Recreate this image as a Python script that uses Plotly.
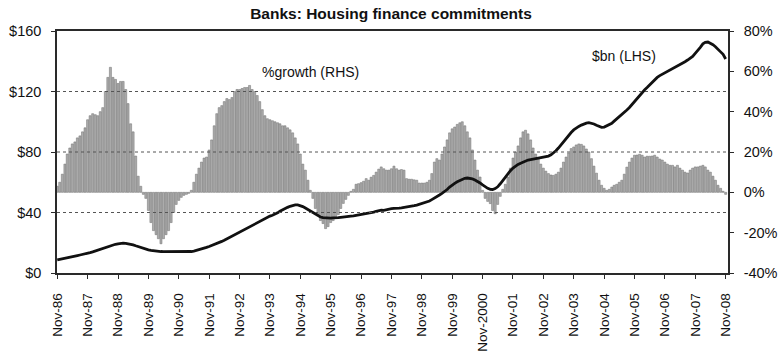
import pandas as pd
import plotly.graph_objects as go

# Monthly series, Nov-1986 to Nov-2008 (one row per year, Nov..Oct)
growth_pct = [
    3, 5, 9, 14, 19, 22, 24, 25, 27, 28, 30, 32,
    36, 38, 39, 38.5, 38, 40, 42, 50, 57, 62, 57, 56,
    54, 55, 55, 51, 44, 34, 30, 18, 8, 3, -1, -3,
    -9, -15, -19, -21, -23, -25.5, -23, -21, -19, -15, -10, -6,
    -4, -2.5, -1.5, -1, -0.5, 1, 5, 9, 12, 15, 17, 17.5,
    21, 26, 33, 39, 42, 43, 45, 46.5, 46, 47, 50, 51,
    51, 51.5, 52, 52, 53, 51, 50, 48, 45, 41, 38, 36.5,
    36, 35.5, 35, 34.5, 34, 33, 33, 32, 31, 29.5, 27, 24,
    19, 14, 11, 6, 1, -3, -8, -11, -14, -15.5, -18, -17,
    -15, -14, -12.5, -11, -8, -5.5, -3.5, -1.5, 0.5, 1.5, 4, 4.3,
    4.8, 5.5, 6.8, 6, 7.5, 8.4, 10, 11.5, 12.6, 11.7, 11, 11,
    11.7, 13, 11.7, 11, 11.3, 11, 6.8, 6.5, 6.5, 6.2, 6, 4.6,
    4.6, 4.6, 5, 6, 9.3, 15, 16.7, 16, 19, 22.5, 26, 29.5,
    31.5, 32.4, 33.7, 34.5, 35, 33, 30, 27, 21, 16, 11, 7.6,
    1, -3, -4.5, -5.6, -9, -10.6, -6, -2, 1.5, 4, 7.6, 12,
    17, 20, 23, 27, 30, 30.8, 29, 26, 22, 19, 16.7, 14,
    12, 10.5, 9.3, 8.6, 8.4, 9, 10, 12, 15, 17.5, 19.5, 21.7,
    22.5, 23.5, 24, 23.8, 23, 21.5, 20, 16.7, 13, 9.5, 6, 3.5,
    2, 1, 1.5, 2.6, 3.5, 4, 5, 6, 9, 12.5, 15, 17,
    18.4, 18.5, 18.9, 18.4, 17.5, 17.9, 17.9, 18, 18.4, 17.5, 16.5, 16,
    15, 14, 13.4, 13.4, 12.6, 13.4, 12, 11, 10, 9.6, 11, 12,
    12.6, 12.6, 13, 13.4, 12.6, 11, 10, 8, 6, 3.5, 2, 0.5,
    -1,
]

commitments_bn = [
    8.6, 8.9, 9.2, 9.6, 10.0, 10.4, 10.8, 11.1, 11.5, 11.9, 12.2, 12.6,
    13.0, 13.5, 14.0, 14.6, 15.2, 15.8, 16.4, 16.9, 17.4, 18.0, 18.5, 19.0,
    19.3, 19.6, 19.7, 19.6, 19.4, 19.2, 18.6, 18.0, 17.4, 16.8, 16.2, 15.7,
    15.3, 14.9, 14.6, 14.4, 14.3, 14.2, 14.1, 14.1, 14.2, 14.3, 14.4, 14.4,
    14.3, 14.2, 14.1, 14.0, 14.0, 14.2, 14.5, 14.9, 15.3, 15.8, 16.3, 16.9,
    17.5, 18.1, 18.7, 19.4, 20.1, 20.9, 21.7, 22.6, 23.5, 24.4, 25.3, 26.2,
    27.2, 28.2, 29.1, 30.0, 30.9, 31.8, 32.8, 33.6, 34.5, 35.3, 36.1, 36.9,
    37.6, 38.2, 38.9, 39.8, 40.8, 41.8, 42.6, 43.4, 44.1, 44.7, 45.0, 45.0,
    44.5, 43.9, 43.0, 42.0, 41.0, 39.8, 38.6, 37.7, 37.0, 36.6, 36.4, 36.2,
    36.3, 36.4, 36.3, 36.6, 36.8, 36.9, 37.1, 37.3, 37.6, 37.8, 38.1, 38.3,
    38.6, 38.9, 39.1, 39.4, 39.9, 40.3, 40.8, 41.2, 41.6, 41.4, 41.9, 42.4,
    42.5, 42.7, 42.6, 42.9, 43.1, 43.3, 43.5, 43.8, 44.1, 44.5, 44.9, 45.4,
    45.7, 46.2, 46.8, 47.6, 48.5, 49.4, 50.5, 51.6, 52.7, 53.7, 55.2, 56.8,
    58.2, 59.3, 60.3, 61.2, 62.0, 62.6, 62.8, 62.7, 62.2, 61.5, 60.6, 59.5,
    58.2, 57.0, 56.0, 55.3, 55.2, 55.8, 57.0, 59.0, 61.3, 63.6, 65.9, 67.6,
    69.4, 70.8, 71.8, 72.6, 73.4, 74.1, 74.7, 75.0, 75.3, 75.5, 75.8, 76.1,
    76.5, 76.9, 77.3, 78.1, 79.2, 80.8, 82.6, 84.8, 86.9, 89.0, 91.2, 92.9,
    94.6, 95.9, 96.9, 97.8, 98.5, 99.1, 99.4, 99.1, 98.5, 97.7, 96.8, 96.3,
    96.5, 97.3, 98.2, 99.0, 100.4, 101.8, 103.3, 104.8, 106.1, 107.8, 109.4, 111.4,
    113.5, 115.6, 117.4, 119.3, 121.0, 122.6, 124.3, 125.9, 127.6, 129.3, 130.5, 131.4,
    132.0, 132.9, 133.8, 134.7, 135.6, 136.5, 137.6, 138.7, 139.7, 140.8, 141.9, 143.2,
    145.2, 147.0, 149.2, 151.5, 152.5, 152.7, 152.0, 150.9, 149.6, 147.6, 146.2, 144.6,
    141.5,
]

x_tick_labels = [
    "Nov-86", "Nov-87", "Nov-88", "Nov-89", "Nov-90", "Nov-91", "Nov-92",
    "Nov-93", "Nov-94", "Nov-95", "Nov-96", "Nov-97", "Nov-98", "Nov-99",
    "Nov-2000", "Nov-01", "Nov-02", "Nov-03", "Nov-04", "Nov-05", "Nov-06",
    "Nov-07", "Nov-08",
]
lhs_ticks = [0, 40, 80, 120, 160]
rhs_ticks = [-40, -20, 0, 20, 40, 60, 80]

months = pd.date_range("1986-11-01", periods=len(growth_pct), freq="MS")
tick_dates = months[::12]

FONT = "Arial, 'Liberation Sans', sans-serif"
AXIS = "#2a2a2a"

fig = go.Figure()

fig.add_trace(go.Bar(
    x=months, y=growth_pct, yaxis="y",
    marker=dict(color="#adadad", line=dict(color="#6e6e6e", width=0.5)),
    name="%growth (RHS)", showlegend=False,
))
fig.add_trace(go.Scatter(
    x=months, y=commitments_bn, yaxis="y2", mode="lines",
    line=dict(color="#111111", width=2.8),
    name="$bn (LHS)", showlegend=False,
))

# dotted reference lines at the inner $ ticks, drawn over the bars
for v in lhs_ticks[1:-1]:
    fig.add_shape(type="line", xref="paper", x0=0, x1=1, yref="y2", y0=v, y1=v,
                  line=dict(color="#555555", width=1, dash="dot"), layer="above")

fig.add_annotation(text="%growth (RHS)", x=months[100], y=59.5, xref="x", yref="y",
                   showarrow=False, font=dict(family=FONT, size=14, color="#111"),
                   bgcolor="white", borderpad=7)
fig.add_annotation(text="$bn (LHS)", x=months[224], y=143.5, xref="x", yref="y2",
                   showarrow=False, font=dict(family=FONT, size=14, color="#111"),
                   bgcolor="white", borderpad=7)

fig.update_layout(
    width=782, height=358,
    margin=dict(l=57, r=54, t=31, b=85),
    paper_bgcolor="white", plot_bgcolor="white",
    bargap=0.12,
    font=dict(family=FONT, size=14, color="#111"),
    title=dict(text="<b>Banks: Housing finance commitments</b>",
               x=0.5, xanchor="center", y=0.962, yanchor="middle",
               font=dict(family=FONT, size=15.5, color="#111")),
    xaxis=dict(
        type="date", range=["1986-10-29", "2008-11-29"],
        tickvals=tick_dates, ticktext=x_tick_labels, tickangle=-90,
        ticks="outside", ticklen=4, tickcolor=AXIS,
        showline=True, linecolor=AXIS, linewidth=1.5, mirror=True,
        showgrid=False, zeroline=False, ticklabelstandoff=9, automargin=False,
        tickfont=dict(family=FONT, size=13.5, color="#111"),
    ),
    yaxis=dict(
        side="right", range=[-40, 80], tickvals=rhs_ticks,
        ticktext=[f"{v}%" for v in rhs_ticks],
        ticks="outside", ticklen=4, tickcolor=AXIS,
        showline=True, linecolor=AXIS, linewidth=1.5,
        showgrid=False, zeroline=False, ticklabelstandoff=7, automargin=False,
        tickfont=dict(family=FONT, size=14.5, color="#111"),
    ),
    yaxis2=dict(
        side="left", overlaying="y", range=[0, 160], tickvals=lhs_ticks,
        ticktext=[f"${v}" for v in lhs_ticks],
        ticks="outside", ticklen=4, tickcolor=AXIS,
        showline=True, linecolor=AXIS, linewidth=1.5,
        showgrid=False, zeroline=False, ticklabelstandoff=7, automargin=False,
        tickfont=dict(family=FONT, size=14.5, color="#111"),
    ),
)

fig.write_html("out.html")
